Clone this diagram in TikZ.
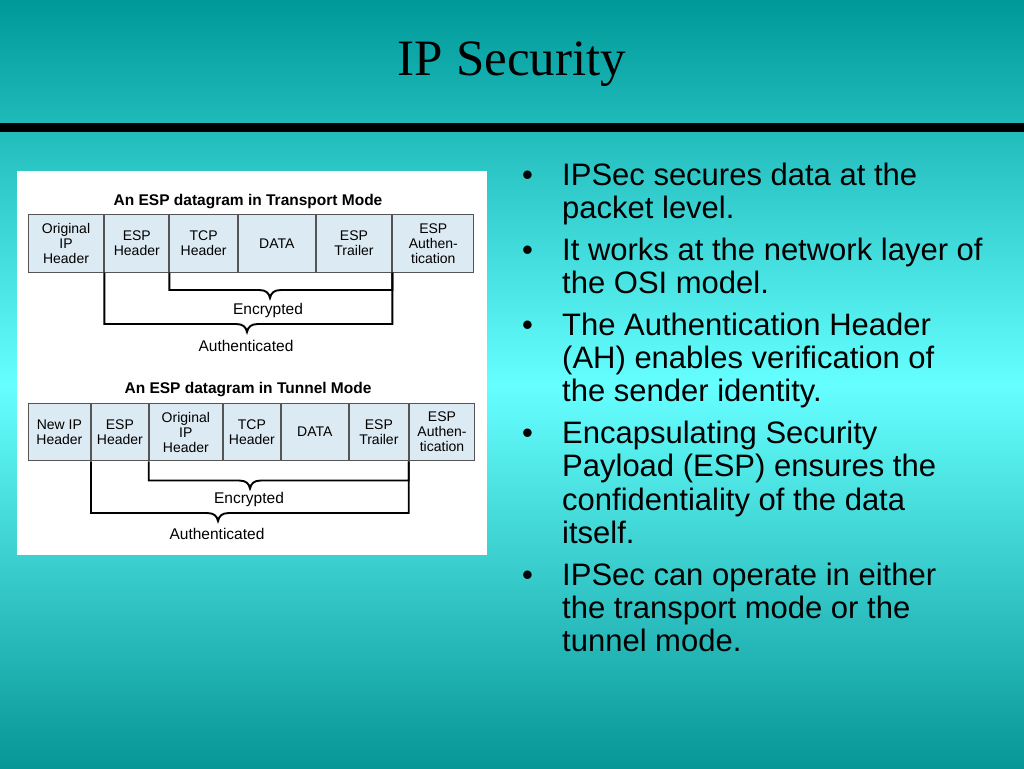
\documentclass[tikz,border=0pt]{standalone}
\usepackage{fontspec}
\setmainfont{Liberation Sans}
\newfontfamily\titlefont{Liberation Serif}
\definecolor{bgtop}{RGB}{0,153,153}
\definecolor{bgmid}{RGB}{102,255,255}
\definecolor{bgbot}{RGB}{8,150,150}
\definecolor{cellblue}{RGB}{220,234,243}
\definecolor{cellline}{RGB}{85,85,85}
\usetikzlibrary{calc}
\usetikzlibrary{positioning}
\tikzset{
  cell/.style={draw=cellline, line width=1pt, fill=cellblue, anchor=north west,
    minimum height=57.7pt, inner sep=0pt, align=center,
    font=\fontsize{14}{15}\selectfont},
  bracket/.style={line width=1.9pt},
  figlabel/.style={anchor=base, inner sep=0pt, font=\fontsize{15.5}{18}\selectfont},
  figtitle/.style={anchor=base, inner sep=0pt, font=\bfseries\fontsize{15.5}{18}\selectfont},
  item/.style={anchor=base west, align=left, inner sep=0pt, font=\fontsize{31}{33.3}\selectfont},
}
% bracket under the cells: left end, tip, right end
\newcommand{\espbracket}[3]{%
  \draw[bracket] (#1) |- ($(#2)+(-11,-8)$)
    .. controls ($(#2)+(-4,-8)$) and ($(#2)+(-1,-5)$) .. (#2)
    .. controls ($(#2)+(1,-5)$) and ($(#2)+(4,-8)$) .. ($(#2)+(11,-8)$)
    -| (#3);}

\begin{document}
\begin{tikzpicture}[x=1pt, y=-1pt]
  \useasboundingbox (0,0) rectangle (1024,768);
  \fill[top color=bgtop, bottom color=bgmid] (0,0) rectangle (1024,384);
  \fill[top color=bgmid, bottom color=bgbot] (0,384) rectangle (1024,768);
  \fill[black] (0,123) rectangle (1024,132);

  \node[anchor=base, inner sep=0pt, font=\titlefont\fontsize{51}{60}\selectfont] (title) at (512,75) {IP Security};

  \fill[white] (17,171) rectangle (487,555);

  % transport mode
  \node[figtitle] (trtitle) at (248,205) {An ESP datagram in Transport Mode};
  \coordinate (tr0) at (27.7,214);
  \foreach \w/\t [count=\i, remember=\i as \j (initially 0)] in
    {75.6/{Original\\IP\\Header}, 64/{ESP\\Header}, 67.7/{TCP\\Header},
     76.7/{DATA}, 75.6/{ESP\\Trailer}, 81/{ESP\\Authen-\\tication}} {
    \node[cell, minimum width=\w pt] (tr\i) at (tr\j.north east) {\t};
  }
  \coordinate (trenctip) at (270,298);
  \coordinate (trauthtip) at (247,332);
  \espbracket{tr3.south west}{trenctip}{tr5.south east}
  \espbracket{tr2.south west}{trauthtip}{tr5.south east}
  \node[figlabel] (trenc) at (268,314) {Encrypted};
  \node[figlabel] (trauth) at (246,351.5) {Authenticated};

  % tunnel mode
  \node[figtitle] (tutitle) at (248,393) {An ESP datagram in Tunnel Mode};
  \coordinate (tu0) at (27.7,402.7);
  \foreach \w/\t [count=\i, remember=\i as \j (initially 0)] in
    {62.3/{New IP\\Header}, 56.7/{ESP\\Header}, 73.3/{Original\\IP\\Header},
     56.7/{TCP\\Header}, 67.3/{DATA}, 58.7/{ESP\\Trailer}, 65.6/{ESP\\Authen-\\tication}} {
    \node[cell, minimum width=\w pt] (tu\i) at (tu\j.north east) {\t};
  }
  \coordinate (tuenctip) at (250,488.5);
  \coordinate (tuauthtip) at (218,521);
  \espbracket{tu3.south west}{tuenctip}{tu6.south east}
  \espbracket{tu2.south west}{tuauthtip}{tu6.south east}
  \node[figlabel] (tuenc) at (249,503) {Encrypted};
  \node[figlabel] (tuauth) at (217,539) {Authenticated};

  % bullets: first and last baseline
  \foreach \y/\z/\t [count=\i] in
    {185.7/218.3/{IPSec secures data at the\\packet level.},
     260/293.3/{It works at the network layer of\\the OSI model.},
     335/401.7/{The Authentication Header\\(AH) enables verification of\\the sender identity.},
     443.3/543.3/{Encapsulating Security\\Payload (ESP) ensures the\\confidentiality of the data\\itself.},
     585/651.7/{IPSec can operate in either\\the transport mode or the\\tunnel mode.}} {
    \node[anchor=base west, inner sep=0pt, font=\fontsize{31}{33.3}\selectfont] (dot\i) at (522,\y) {•};
    \node[item] (item\i) at (562,\z) {\t};
  }
\end{tikzpicture}
\end{document}
